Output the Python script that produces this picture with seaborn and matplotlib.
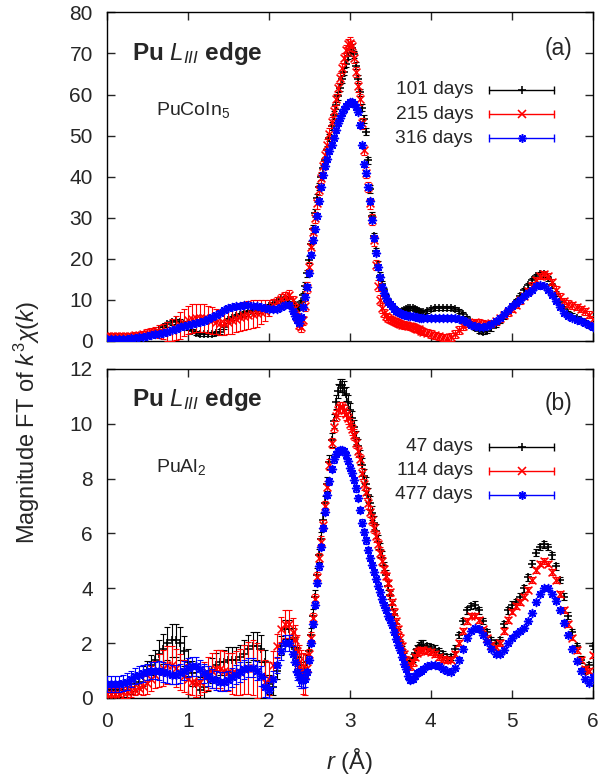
import matplotlib
matplotlib.use('Agg')
import matplotlib.pyplot as plt
import numpy as np
import pandas as pd
import seaborn as sns

# r grid (Angstrom): 0.05 steps, 0.025 steps through the main peak
r = [
    0.00, 0.05, 0.10, 0.15, 0.20, 0.25, 0.30, 0.35, 0.40, 0.45,
    0.50, 0.55, 0.60, 0.65, 0.70, 0.75, 0.80, 0.85, 0.90, 0.95,
    1.00, 1.05, 1.10, 1.15, 1.20, 1.25, 1.30, 1.35, 1.40, 1.45,
    1.50, 1.55, 1.60, 1.65, 1.70, 1.75, 1.80, 1.85, 1.90, 1.95,
    2.00, 2.05, 2.10, 2.15, 2.20, 2.25, 2.30,
    2.325, 2.35, 2.375, 2.40, 2.425, 2.45, 2.475, 2.50,
    2.525, 2.55, 2.575, 2.60, 2.625, 2.65, 2.675, 2.70,
    2.725, 2.75, 2.775, 2.80, 2.825, 2.85, 2.875, 2.90,
    2.925, 2.95, 2.975, 3.00, 3.025, 3.05, 3.075, 3.10,
    3.125, 3.15, 3.175, 3.20, 3.225, 3.25, 3.275, 3.30,
    3.325, 3.35, 3.375, 3.40, 3.425, 3.45, 3.475, 3.50,
    3.525, 3.55, 3.575, 3.60, 3.625, 3.65, 3.675, 3.70,
    3.725, 3.75, 3.775, 3.80, 3.825, 3.85, 3.875, 3.90,
    3.95, 4.00, 4.05, 4.10, 4.15, 4.20, 4.25, 4.30, 4.35, 4.40,
    4.45, 4.50, 4.55, 4.60, 4.65, 4.70, 4.75, 4.80, 4.85, 4.90,
    4.95, 5.00, 5.05, 5.10, 5.15, 5.20, 5.25, 5.30, 5.35, 5.40,
    5.45, 5.50, 5.55, 5.60, 5.65, 5.70, 5.75, 5.80, 5.85, 5.90,
    5.95, 6.00,
]

# ---------------- panel (a): PuCoIn5 ----------------
a_101 = [
    0.8, 0.8, 0.8, 0.8, 0.9, 0.9, 1.0, 1.0, 1.1, 1.2,
    1.4, 1.7, 2.1, 2.7, 3.4, 4.1, 4.6, 4.8, 4.7, 4.2,
    3.3, 2.4, 1.9, 1.7, 1.7, 1.8, 1.8, 1.9, 2.3, 3.5,
    5.0, 5.6, 6.0, 6.4, 6.7, 7.0, 7.2, 7.4, 7.7, 8.0,
    8.5, 9.1, 9.7, 10.2, 10.5, 10.3, 9.3,
    8.5, 7.8, 8.2, 9.5, 11.2, 13.5, 16.5, 19.8,
    23.5, 27.3, 31.2, 34.8, 37.6, 40.0, 42.0, 44.0,
    46.5, 49.5, 52.3, 55.0, 57.4, 59.6, 61.7, 63.7,
    65.6, 67.5, 69.5, 71.0, 71.3, 69.8, 67.0, 63.8,
    60.5, 56.8, 54.0, 51.0, 44.0, 37.0, 30.5, 25.5,
    21.8, 18.5, 15.8, 13.8, 12.3, 11.0, 10.0, 9.2,
    8.5, 7.9, 7.5, 7.2, 7.1, 7.2, 7.5, 7.8,
    8.0, 8.1, 8.0, 7.8, 7.5, 7.2, 7.0, 7.0,
    7.3, 7.7, 8.0, 8.1, 8.1, 8.1, 8.0, 7.8, 7.3, 6.6,
    5.5, 4.3, 3.2, 2.5, 2.3, 2.5, 3.1, 4.0, 5.0, 6.0,
    7.1, 8.3, 9.6, 11.0, 12.3, 13.6, 14.8, 15.8, 16.3, 16.2,
    15.3, 13.6, 11.5, 9.4, 7.8, 6.8, 6.1, 5.6, 5.1, 4.6,
    4.0, 3.4,
]
a_101_err = [
    0.4, 0.4, 0.4, 0.4, 0.4, 0.4, 0.4, 0.4, 0.4, 0.4,
    0.4, 0.4, 0.4, 0.6, 0.6, 0.6, 0.6, 0.6, 0.6, 0.6,
    0.6, 0.5, 0.5, 0.5, 0.5, 0.5, 0.5, 0.5, 0.5, 0.5,
    0.5, 0.5, 0.5, 0.5, 0.5, 0.5, 0.5, 0.5, 0.5, 0.5,
    0.5, 0.5, 0.5, 0.5, 0.5, 0.5, 0.5,
    0.6, 0.6, 0.6, 0.6, 0.6, 0.9, 0.9, 0.9,
    0.9, 0.9, 0.9, 0.9, 0.9, 0.9, 0.9, 0.9,
    0.9, 0.9, 0.9, 0.9, 0.9, 0.9, 0.9, 0.9,
    0.9, 0.9, 0.9, 0.9, 0.9, 0.9, 0.9, 0.9,
    0.9, 0.9, 0.9, 0.9, 0.9, 0.9, 0.9, 0.9,
    0.9, 0.9, 0.9, 0.9, 0.5, 0.5, 0.5, 0.5,
    0.5, 0.5, 0.5, 0.5, 0.5, 0.5, 0.5, 0.5,
    0.5, 0.5, 0.5, 0.5, 0.5, 0.5, 0.5, 0.5,
    0.5, 0.5, 0.5, 0.5, 0.5, 0.5, 0.5, 0.5, 0.5, 0.5,
    0.5, 0.5, 0.6, 0.6, 0.6, 0.6, 0.6, 0.6, 0.6, 0.6,
    0.6, 0.6, 0.6, 0.6, 0.6, 0.6, 0.6, 0.6, 0.6, 0.6,
    0.6, 0.6, 0.6, 0.6, 0.6, 0.6, 0.6, 0.6, 0.6, 0.6,
    0.6, 0.6,
]
a_215 = [
    1.3, 1.3, 1.2, 1.2, 1.2, 1.2, 1.3, 1.4, 1.5, 1.7,
    1.9, 2.1, 2.2, 2.3, 2.3, 2.4, 2.7, 3.2, 3.8, 4.4,
    5.0, 5.4, 5.6, 5.6, 5.5, 5.3, 5.0, 4.7, 4.5, 4.5,
    4.7, 5.0, 5.4, 5.8, 6.1, 6.3, 6.5, 6.7, 7.0, 7.4,
    8.0, 8.7, 9.4, 10.3, 11.0, 11.3, 10.0,
    8.0, 5.8, 3.9, 3.3, 5.0, 8.5, 13.0, 18.0,
    23.0, 26.5, 30.0, 33.5, 36.8, 39.8, 42.5, 45.2,
    47.8, 50.5, 53.2, 56.0, 58.8, 61.5, 64.0, 66.5,
    68.8, 70.8, 72.2, 72.6, 71.8, 69.0, 65.5, 62.0,
    58.8, 53.0, 46.5, 41.0, 37.5, 33.5, 29.5, 24.5,
    18.5, 13.5, 10.0, 8.0, 6.8, 6.0, 5.6, 5.3,
    5.0, 4.8, 4.6, 4.4, 4.2, 4.0, 3.9, 3.8,
    3.7, 3.6, 3.4, 3.2, 3.0, 2.8, 2.5, 2.3,
    2.0, 1.7, 1.4, 1.1, 0.9, 0.8, 1.0, 1.7, 2.7, 3.6,
    4.2, 4.5, 4.6, 4.5, 4.2, 4.1, 4.3, 4.8, 5.5, 6.3,
    7.0, 7.8, 8.8, 9.9, 11.0, 12.2, 13.5, 14.8, 15.8, 16.2,
    15.8, 14.4, 12.5, 10.8, 9.7, 9.1, 8.7, 8.3, 7.8, 7.2,
    6.4, 5.4,
]
a_215_err = [
    0.7, 0.7, 0.7, 0.7, 0.7, 0.7, 0.7, 0.7, 0.8, 0.8,
    0.9, 1.0, 1.2, 1.5, 1.9, 2.3, 2.7, 3.0, 3.2, 3.3,
    3.4, 3.5, 3.5, 3.5, 3.4, 3.3, 3.2, 3.1, 3.0, 3.0,
    3.1, 3.2, 3.3, 3.4, 3.5, 3.5, 3.4, 3.2, 2.9, 2.5,
    2.0, 1.6, 1.3, 1.1, 1.0, 1.0, 1.0,
    1.0, 1.0, 1.0, 1.0, 1.0, 1.3, 1.3, 1.3,
    1.3, 1.3, 1.3, 1.3, 1.3, 1.3, 1.3, 1.3,
    1.3, 1.3, 1.3, 1.3, 1.3, 1.3, 1.3, 1.3,
    1.3, 1.3, 1.3, 1.3, 1.3, 1.3, 1.3, 1.3,
    1.3, 1.3, 1.3, 1.3, 1.3, 1.3, 1.3, 1.3,
    1.3, 1.3, 1.3, 1.3, 0.9, 0.9, 0.9, 0.9,
    0.9, 0.9, 0.9, 0.9, 0.9, 0.9, 0.9, 0.9,
    0.9, 0.9, 0.9, 0.9, 0.9, 0.9, 0.9, 0.9,
    0.9, 0.9, 0.9, 0.9, 0.9, 0.9, 0.9, 0.9, 0.9, 0.9,
    0.9, 0.9, 0.8, 0.8, 0.8, 0.8, 0.8, 0.8, 0.8, 0.8,
    0.8, 0.8, 0.8, 0.8, 0.8, 0.8, 0.8, 0.8, 0.8, 0.8,
    0.8, 0.8, 0.8, 0.8, 0.8, 0.8, 0.8, 0.8, 0.8, 0.8,
    0.8, 0.8,
]
a_316 = [
    0.5, 0.5, 0.5, 0.5, 0.6, 0.6, 0.7, 0.8, 0.9, 1.0,
    1.2, 1.4, 1.6, 1.8, 2.0, 2.3, 2.6, 3.0, 3.3, 3.6,
    3.9, 4.1, 4.3, 4.6, 4.9, 5.3, 5.8, 6.3, 6.9, 7.5,
    8.0, 8.3, 8.5, 8.6, 8.7, 8.7, 8.6, 8.5, 8.3, 8.0,
    7.8, 7.7, 7.8, 8.3, 8.8, 8.7, 7.3,
    6.0, 5.0, 4.5, 5.8, 8.2, 10.8, 13.2, 16.5,
    21.0, 24.5, 27.2, 30.5, 34.0, 37.5, 40.3, 42.5,
    44.3, 46.2, 47.8, 49.5, 51.3, 53.0, 54.4, 55.5,
    56.5, 57.3, 57.8, 58.2, 58.2, 57.8, 57.0, 55.8,
    52.5, 47.7, 43.0, 40.8, 37.5, 34.0, 29.5, 25.0,
    21.5, 18.0, 15.5, 13.2, 11.7, 10.4, 9.6, 9.0,
    8.4, 7.8, 7.3, 7.0, 6.7, 6.5, 6.4, 6.3,
    6.2, 6.1, 6.0, 5.9, 5.8, 5.7, 5.7, 5.6,
    5.6, 5.5, 5.5, 5.5, 5.5, 5.5, 5.5, 5.5, 5.4, 5.1,
    4.6, 4.0, 3.6, 3.4, 3.4, 3.7, 4.2, 4.9, 5.7, 6.6,
    7.6, 8.5, 9.3, 10.1, 10.9, 11.7, 12.5, 13.3, 13.7, 13.4,
    12.5, 11.2, 9.7, 8.2, 6.9, 6.1, 5.6, 5.2, 4.8, 4.3,
    3.8, 3.3,
]
a_316_err = [
    0.3, 0.3, 0.3, 0.3, 0.3, 0.3, 0.3, 0.3, 0.3, 0.3,
    0.3, 0.3, 0.3, 0.3, 0.3, 0.3, 0.3, 0.3, 0.3, 0.3,
    0.3, 0.3, 0.3, 0.3, 0.3, 0.3, 0.3, 0.3, 0.3, 0.3,
    0.3, 0.3, 0.3, 0.3, 0.3, 0.3, 0.3, 0.3, 0.3, 0.3,
    0.3, 0.3, 0.3, 0.3, 0.3, 0.3, 0.3,
    0.3, 0.3, 0.3, 0.3, 0.3, 0.6, 0.6, 0.6,
    0.6, 0.6, 0.6, 0.6, 0.6, 0.6, 0.6, 0.6,
    0.6, 0.6, 0.6, 0.6, 0.6, 0.6, 0.6, 0.6,
    0.6, 0.6, 0.6, 0.6, 0.6, 0.6, 0.6, 0.6,
    0.6, 0.6, 0.6, 0.6, 0.6, 0.6, 0.6, 0.6,
    0.6, 0.6, 0.6, 0.6, 0.3, 0.3, 0.3, 0.3,
    0.3, 0.3, 0.3, 0.3, 0.3, 0.3, 0.3, 0.3,
    0.3, 0.3, 0.3, 0.3, 0.3, 0.3, 0.3, 0.3,
    0.3, 0.3, 0.3, 0.3, 0.3, 0.3, 0.3, 0.3, 0.3, 0.3,
    0.3, 0.3, 0.3, 0.3, 0.3, 0.3, 0.3, 0.3, 0.3, 0.3,
    0.3, 0.3, 0.3, 0.3, 0.3, 0.3, 0.3, 0.3, 0.3, 0.3,
    0.3, 0.3, 0.3, 0.3, 0.3, 0.3, 0.3, 0.3, 0.3, 0.3,
    0.3, 0.3,
]

# ---------------- panel (b): PuAl2 ----------------
b_47 = [
    0.3, 0.3, 0.3, 0.3, 0.3, 0.3, 0.4, 0.5, 0.6, 0.8,
    1.0, 1.2, 1.4, 1.6, 1.8, 2.0, 2.1, 2.1, 2.0, 1.7,
    1.3, 0.9, 0.5, 0.3, 0.4, 0.7, 1.0, 1.2, 1.3, 1.3,
    1.4, 1.4, 1.4, 1.5, 1.6, 1.8, 1.9, 1.9, 1.8, 1.3,
    0.5, 0.4, 1.0, 1.9, 2.5, 2.5, 2.2,
    1.8, 1.5, 1.2, 1.0, 0.9, 1.0, 1.3, 1.7,
    2.3, 3.0, 3.7, 4.5, 5.2, 5.8, 6.5, 7.1,
    7.8, 8.6, 9.4, 10.1, 10.8, 11.2, 11.4, 11.4,
    11.3, 11.1, 10.8, 10.5, 10.2, 9.9, 9.5, 9.2,
    8.8, 8.5, 8.1, 7.8, 7.4, 7.1, 6.75, 6.4,
    6.1, 5.7, 5.4, 5.1, 4.8, 4.5, 4.1, 3.75,
    3.4, 3.05, 2.7, 2.35, 2.0, 1.75, 1.5, 1.35,
    1.25, 1.3, 1.45, 1.65, 1.8, 1.9, 1.95, 1.95,
    1.9, 1.85, 1.8, 1.7, 1.6, 1.5, 1.5, 1.8, 2.3, 2.8,
    3.2, 3.35, 3.4, 3.2, 2.8, 2.4, 2.1, 2.0, 2.1, 2.7,
    3.2, 3.4, 3.5, 3.7, 4.0, 4.4, 4.9, 5.3, 5.5, 5.6,
    5.5, 5.2, 4.8, 4.3, 3.7, 3.0, 2.4, 1.9, 1.4, 1.0,
    1.2, 1.9,
]
b_47_err = [
    0.25, 0.25, 0.25, 0.25, 0.25, 0.25, 0.25, 0.25, 0.25, 0.35,
    0.35, 0.35, 0.35, 0.5, 0.55, 0.6, 0.6, 0.6, 0.6, 0.55,
    0.5, 0.45, 0.45, 0.45, 0.45, 0.45, 0.45, 0.45, 0.45, 0.45,
    0.45, 0.45, 0.45, 0.45, 0.5, 0.5, 0.5, 0.5, 0.5, 0.45,
    0.35, 0.3, 0.3, 0.35, 0.35, 0.35, 0.35,
    0.35, 0.35, 0.3, 0.3, 0.3, 0.3, 0.25, 0.25,
    0.25, 0.25, 0.25, 0.25, 0.25, 0.25, 0.25, 0.25,
    0.25, 0.25, 0.25, 0.25, 0.25, 0.25, 0.25, 0.25,
    0.25, 0.25, 0.25, 0.25, 0.25, 0.25, 0.25, 0.25,
    0.25, 0.25, 0.25, 0.25, 0.25, 0.25, 0.25, 0.25,
    0.25, 0.25, 0.25, 0.25, 0.15, 0.15, 0.15, 0.15,
    0.15, 0.15, 0.15, 0.15, 0.15, 0.15, 0.15, 0.15,
    0.15, 0.15, 0.15, 0.15, 0.15, 0.15, 0.15, 0.15,
    0.12, 0.12, 0.12, 0.12, 0.12, 0.12, 0.12, 0.12, 0.12, 0.12,
    0.12, 0.12, 0.12, 0.12, 0.12, 0.12, 0.12, 0.12, 0.12, 0.12,
    0.12, 0.12, 0.12, 0.12, 0.12, 0.12, 0.12, 0.12, 0.12, 0.12,
    0.12, 0.12, 0.12, 0.12, 0.12, 0.12, 0.12, 0.12, 0.12, 0.12,
    0.12, 0.12,
]
b_114 = [
    0.15, 0.15, 0.15, 0.15, 0.2, 0.2, 0.25, 0.3, 0.35, 0.45,
    0.55, 0.7, 0.85, 1.0, 1.1, 1.2, 1.2, 1.1, 0.95, 0.8,
    0.7, 0.6, 0.55, 0.6, 0.75, 0.9, 1.0, 1.05, 1.05, 1.0,
    0.95, 0.9, 0.9, 0.95, 1.05, 1.1, 1.1, 1.0, 0.8, 0.6,
    0.7, 1.2, 1.9, 2.5, 2.7, 2.7, 2.4,
    2.1, 1.7, 1.3, 1.05, 0.9, 0.85, 1.1, 1.6,
    2.2, 2.9, 3.6, 4.4, 5.1, 5.7, 6.3, 7.0,
    7.7, 8.5, 9.3, 9.9, 10.3, 10.5, 10.6, 10.6,
    10.5, 10.35, 10.2, 10.0, 9.8, 9.6, 9.3, 9.0,
    8.7, 8.2, 7.8, 7.5, 7.1, 6.8, 6.5, 6.2,
    5.9, 5.6, 5.3, 5.0, 4.7, 4.45, 4.2, 3.85,
    3.5, 3.15, 2.8, 2.5, 2.2, 1.9, 1.6, 1.4,
    1.2, 1.15, 1.3, 1.5, 1.65, 1.7, 1.75, 1.75,
    1.72, 1.68, 1.6, 1.5, 1.42, 1.38, 1.4, 1.6, 2.0, 2.45,
    2.8, 3.0, 3.0, 2.85, 2.5, 2.2, 1.95, 1.85, 2.0, 2.45,
    2.85, 3.15, 3.35, 3.5, 3.7, 3.95, 4.3, 4.65, 4.9, 5.0,
    4.9, 4.6, 4.3, 3.8, 3.2, 2.7, 2.2, 1.75, 1.4, 1.05,
    1.0, 1.55,
]
b_114_err = [
    0.2, 0.2, 0.2, 0.2, 0.2, 0.2, 0.2, 0.2, 0.2, 0.35,
    0.4, 0.45, 0.5, 0.6, 0.65, 0.7, 0.7, 0.7, 0.65, 0.6,
    0.55, 0.5, 0.5, 0.5, 0.55, 0.6, 0.65, 0.7, 0.7, 0.7,
    0.7, 0.75, 0.8, 0.85, 0.9, 0.95, 1.0, 1.0, 0.95, 0.8,
    0.6, 0.5, 0.45, 0.45, 0.5, 0.5, 0.5,
    0.55, 0.6, 0.65, 0.7, 0.75, 0.75, 0.2, 0.2,
    0.2, 0.2, 0.2, 0.2, 0.2, 0.2, 0.2, 0.2,
    0.2, 0.2, 0.2, 0.2, 0.2, 0.2, 0.2, 0.2,
    0.2, 0.2, 0.2, 0.2, 0.2, 0.2, 0.2, 0.2,
    0.2, 0.2, 0.2, 0.2, 0.2, 0.2, 0.2, 0.2,
    0.2, 0.2, 0.2, 0.2, 0.12, 0.12, 0.12, 0.12,
    0.12, 0.12, 0.12, 0.12, 0.12, 0.12, 0.12, 0.12,
    0.12, 0.12, 0.12, 0.12, 0.12, 0.12, 0.12, 0.12,
    0.1, 0.1, 0.1, 0.1, 0.1, 0.1, 0.1, 0.1, 0.1, 0.1,
    0.1, 0.1, 0.1, 0.1, 0.1, 0.1, 0.1, 0.1, 0.1, 0.1,
    0.1, 0.1, 0.1, 0.1, 0.1, 0.1, 0.1, 0.1, 0.1, 0.1,
    0.1, 0.1, 0.1, 0.1, 0.1, 0.1, 0.1, 0.1, 0.1, 0.1,
    0.1, 0.1,
]
b_477 = [
    0.5, 0.5, 0.5, 0.5, 0.55, 0.6, 0.7, 0.8, 0.85, 0.9,
    0.95, 1.0, 1.0, 1.0, 0.95, 0.9, 0.85, 0.85, 0.9, 1.0,
    1.1, 1.15, 1.15, 1.05, 0.9, 0.8, 0.7, 0.65, 0.6, 0.6,
    0.65, 0.75, 0.85, 0.95, 1.05, 1.1, 1.1, 1.0, 0.8, 0.4,
    0.3, 0.7, 1.2, 1.7, 2.0, 2.0, 1.6,
    1.3, 0.95, 0.75, 0.65, 0.65, 0.7, 0.95, 1.4,
    2.0, 2.7, 3.4, 4.2, 4.8, 5.5, 6.2, 6.8,
    7.4, 7.9, 8.35, 8.7, 8.9, 9.0, 9.05, 9.05,
    9.0, 8.85, 8.65, 8.4, 8.2, 7.95, 7.65, 7.3,
    6.85, 6.4, 6.05, 5.75, 5.4, 5.1, 4.85, 4.6,
    4.35, 4.1, 3.85, 3.6, 3.4, 3.2, 3.0, 2.85,
    2.65, 2.4, 2.15, 1.95, 1.75, 1.5, 1.25, 1.05,
    0.8, 0.65, 0.7, 0.8, 0.9, 0.95, 1.0, 1.05,
    1.15, 1.2, 1.2, 1.15, 1.05, 0.98, 0.95, 1.1, 1.4, 1.8,
    2.2, 2.45, 2.55, 2.5, 2.3, 2.05, 1.8, 1.6, 1.6, 1.75,
    2.0, 2.2, 2.35, 2.45, 2.55, 2.8, 3.1, 3.5, 3.8, 4.0,
    4.0, 3.8, 3.55, 3.2, 2.75, 2.3, 1.8, 1.35, 1.0, 0.7,
    0.55, 0.75,
]
b_477_err = [
    0.3, 0.3, 0.3, 0.3, 0.3, 0.3, 0.3, 0.3, 0.3, 0.3,
    0.3, 0.3, 0.3, 0.35, 0.35, 0.35, 0.35, 0.35, 0.35, 0.35,
    0.35, 0.35, 0.35, 0.35, 0.35, 0.35, 0.35, 0.35, 0.35, 0.35,
    0.35, 0.35, 0.35, 0.35, 0.35, 0.35, 0.35, 0.35, 0.35, 0.35,
    0.3, 0.3, 0.3, 0.3, 0.3, 0.3, 0.3,
    0.3, 0.3, 0.3, 0.3, 0.3, 0.3, 0.12, 0.12,
    0.12, 0.12, 0.12, 0.12, 0.12, 0.12, 0.12, 0.12,
    0.12, 0.12, 0.12, 0.12, 0.12, 0.12, 0.12, 0.12,
    0.12, 0.12, 0.12, 0.12, 0.12, 0.12, 0.12, 0.12,
    0.12, 0.12, 0.12, 0.12, 0.12, 0.12, 0.12, 0.12,
    0.12, 0.12, 0.12, 0.12, 0.1, 0.1, 0.1, 0.1,
    0.1, 0.1, 0.1, 0.1, 0.1, 0.1, 0.1, 0.1,
    0.1, 0.1, 0.1, 0.1, 0.1, 0.1, 0.1, 0.1,
    0.08, 0.08, 0.08, 0.08, 0.08, 0.08, 0.08, 0.08, 0.08, 0.08,
    0.08, 0.08, 0.08, 0.08, 0.08, 0.08, 0.08, 0.08, 0.08, 0.08,
    0.08, 0.08, 0.08, 0.08, 0.08, 0.08, 0.08, 0.08, 0.08, 0.08,
    0.08, 0.08, 0.08, 0.08, 0.08, 0.08, 0.08, 0.08, 0.08, 0.08,
    0.08, 0.08,
]

labels_a = ['101 days', '215 days', '316 days']
labels_b = ['47 days', '114 days', '477 days']
colors = ['#000000', '#ff0000', '#0000ff']
markers = ['+', 'x', (8, 2, 0)]

for arr in [a_101, a_101_err, a_215, a_215_err, a_316, a_316_err,
            b_47, b_47_err, b_114, b_114_err, b_477, b_477_err]:
    assert len(arr) == len(r), len(arr)

sns.set_style('ticks', {'xtick.direction': 'in', 'ytick.direction': 'in'})
plt.rcParams['font.family'] = ['Liberation Sans', 'DejaVu Sans']
plt.rcParams['mathtext.fontset'] = 'custom'
plt.rcParams['mathtext.rm'] = 'Liberation Sans'
plt.rcParams['mathtext.it'] = 'Liberation Sans:italic'
plt.rcParams['mathtext.bf'] = 'Liberation Sans:bold'

FS = 13.8      # key text
TICK_FS = 15   # tick labels
LABEL_FS = 17  # axis titles

fig = plt.figure(figsize=(6.03, 7.75), dpi=100)
ax_a = fig.add_axes([0.177, 0.560, 0.806, 0.424])
ax_b = fig.add_axes([0.177, 0.0994, 0.806, 0.4245])


def draw_panel(ax, vals, errs, labels, ymax, ystep, tag, compound):
    df = pd.DataFrame({'r': r * 3,
                       'ft': sum(vals, []),
                       'err': sum(errs, []),
                       'series': sum([[lab] * len(r) for lab in labels], [])})
    for i, lab in enumerate(labels):
        d = df[df['series'] == lab]
        z = 2 + i
        ax.errorbar(d['r'], d['ft'], yerr=d['err'], fmt='none', ecolor=colors[i],
                    elinewidth=0.8, capsize=2.2, capthick=0.8, zorder=z)
        sns.scatterplot(data=d, x='r', y='ft', ax=ax, color=colors[i],
                        edgecolor=colors[i], marker=markers[i], s=32,
                        linewidth=1.15, legend=False, zorder=z + 0.5)

    ax.set_xlim(0, 6)
    ax.set_ylim(0, ymax)
    ax.set_xticks(range(0, 7))
    ax.set_yticks(np.arange(0, ymax + ystep / 2, ystep))
    ax.tick_params(direction='in', top=True, right=True, length=6, width=1,
                   labelsize=TICK_FS)
    ax.tick_params(axis='y', pad=10)
    ax.tick_params(axis='x', pad=10)
    ax.set_xlabel('')
    ax.set_ylabel('')
    for sp in ax.spines.values():
        sp.set_linewidth(1)
        sp.set_color('black')

    # gnuplot style key: label, line with end caps, marker in the middle
    for i, lab in enumerate(labels):
        y = [0.764, 0.690, 0.617][i]
        ax.text(0.754, y, lab, transform=ax.transAxes, ha='right', va='center',
                fontsize=FS)
        ax.plot([0.787, 0.9205], [y, y], transform=ax.transAxes,
                color=colors[i], lw=1, zorder=10)
        ax.plot([0.787, 0.9205], [y, y], transform=ax.transAxes, ls='none',
                marker='|', ms=6, mew=1, color=colors[i], zorder=10)
        ax.plot([0.854], [y], transform=ax.transAxes, ls='none',
                marker=markers[i], ms=6, mew=1.15, color=colors[i], zorder=10)

    ax.text(0.051, tag[1], r'Pu $\mathit{L}_{\mathit{III}}$ edge',
            transform=ax.transAxes, ha='left', va='center', fontsize=17.5,
            fontweight='bold')
    ax.text(0.959, tag[2], tag[0], transform=ax.transAxes, ha='right',
            va='center', fontsize=16.5)
    ax.text(0.101, 0.703, compound, transform=ax.transAxes, ha='left',
            va='center', fontsize=14)


draw_panel(ax_a, [a_101, a_215, a_316], [a_101_err, a_215_err, a_316_err],
           labels_a, 80, 10, ('(a)', 0.876, 0.891), r'PuCoIn$_{5}$')
draw_panel(ax_b, [b_47, b_114, b_477], [b_47_err, b_114_err, b_477_err],
           labels_b, 12, 2, ('(b)', 0.906, 0.896), r'PuAl$_{2}$')
ax_a.tick_params(labelbottom=False)

fig.text(0.045, 0.455, r'Magnitude FT of $k^3\chi(k)$', rotation=90,
         ha='center', va='center', fontsize=LABEL_FS)
fig.text(0.58, 0.018, r'$r$ (Å)', ha='center', va='center', fontsize=LABEL_FS)

fig.savefig('out.png', dpi=100)
